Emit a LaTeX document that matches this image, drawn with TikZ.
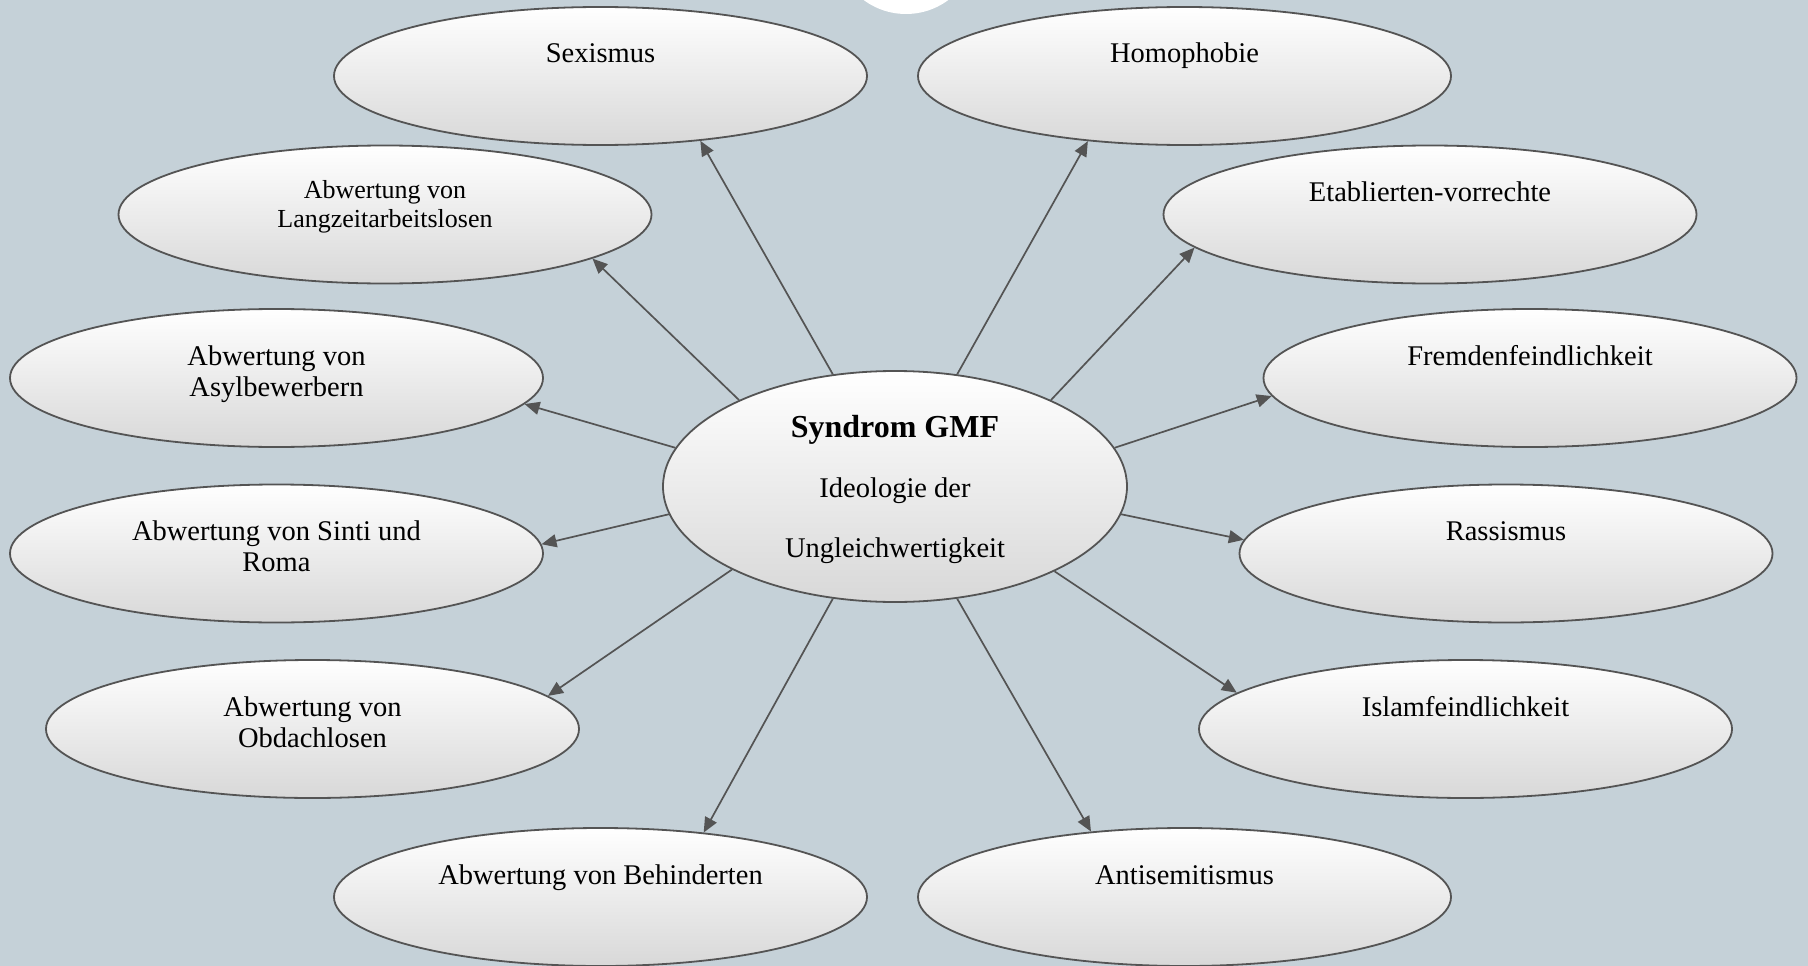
\documentclass[tikz,border=0pt]{standalone}
\usepackage{fontspec}
\setmainfont{Liberation Serif}
\usetikzlibrary{arrows.meta,shapes.geometric,calc}
\definecolor{bg}{RGB}{197,209,216}
\definecolor{edge}{RGB}{84,84,84}
\definecolor{shadebot}{RGB}{216,216,216}
\begin{document}
\begin{tikzpicture}[x=1pt,y=-1pt,
  bubble/.style={ellipse, draw=edge, line width=1.8pt, top color=white, bottom color=shadebot,
    minimum width=533pt, minimum height=138pt, inner sep=0pt},
  hub/.style={bubble, minimum width=464pt, minimum height=231pt},
  lbl/.style={anchor=base, align=center, inner sep=0pt, font=\fontsize{28.5}{31}\selectfont},
  small/.style={lbl, font=\fontsize{26}{29}\selectfont},
  link/.style={draw=edge, line width=1.7pt, -{Triangle[length=15pt,width=13pt]}}]
\fill[bg] (0,0) rectangle (1808,966);
\useasboundingbox (0,0) rectangle (1808,966);
\begin{scope}
  \clip (0,0) rectangle (1808,966);
  \fill[white] (906,-57) circle (71);
  % outer ellipses
  \node[bubble] (sex) at (600.5,76) {};
  \node[bubble] (hom) at (1184.5,76) {};
  \node[bubble] (lzt) at (385,214.5) {};
  \node[bubble] (eta) at (1430,214.5) {};
  \node[bubble] (asy) at (276.5,378) {};
  \node[bubble] (fre) at (1530,378) {};
  \node[bubble] (sin) at (276.5,553.5) {};
  \node[bubble] (ras) at (1506,553.5) {};
  \node[bubble] (obd) at (312.5,729) {};
  \node[bubble] (isl) at (1465.5,729) {};
  \node[bubble] (beh) at (600.5,897) {};
  \node[bubble] (ant) at (1184.5,897) {};
  \node[hub] (hub) at (895,486.5) {};
\end{scope}
% labels (base anchor = baseline of the last line)
\node[lbl] (sex-t) at ($(sex.center)+(0,-13)$) {Sexismus};
\node[lbl] (hom-t) at ($(hom.center)+(0,-13)$) {Homophobie};
\node[small] (lzt-t) at ($(lzt.center)+(0,13)$) {Abwertung von\\Langzeitarbeitslosen};
\node[lbl] (eta-t) at ($(eta.center)+(0,-13)$) {Etablierten-vorrechte};
\node[lbl] (asy-t) at ($(asy.center)+(0,18)$) {Abwertung von\\Asylbewerbern};
\node[lbl] (fre-t) at ($(fre.center)+(0,-13)$) {Fremdenfeindlichkeit};
\node[lbl] (sin-t) at ($(sin.center)+(0,18)$) {Abwertung von Sinti und\\Roma};
\node[lbl] (ras-t) at ($(ras.center)+(0,-13)$) {Rassismus};
\node[lbl] (obd-t) at ($(obd.center)+(0,18)$) {Abwertung von\\Obdachlosen};
\node[lbl] (isl-t) at ($(isl.center)+(0,-13)$) {Islamfeindlichkeit};
\node[lbl] (beh-t) at ($(beh.center)+(0,-13)$) {Abwertung von Behinderten};
\node[lbl] (ant-t) at ($(ant.center)+(0,-13)$) {Antisemitismus};
\node[lbl, font=\fontsize{28.5}{60}\selectfont] (hub-t) at ($(hub.center)+(0,71)$)
  {{\bfseries\fontsize{32}{60}\selectfont Syndrom GMF}\\Ideologie der\\Ungleichwertigkeit};
% connectors
\draw[link] (hub.119) -- (sex.327.5);
\draw[link] (hub.61) -- (hom.214.3);
\draw[link] (hub.151) -- (lzt.348.7);
\draw[link] (hub.29) -- (eta.188.5);
\draw[link] (hub.170) -- (asy.354.5);
\draw[link] (hub.10) -- (fre.184.3);
\draw[link] (hub.187) -- (sin.2.5);
\draw[link] (hub.353) -- (ras.177.5);
\draw[link] (hub.207) -- (obd.8.4);
\draw[link] (hub.332) -- (isl.171.6);
\draw[link] (hub.241) -- (beh.32.7);
\draw[link] (hub.299) -- (ant.145.4);
\end{tikzpicture}
\end{document}
